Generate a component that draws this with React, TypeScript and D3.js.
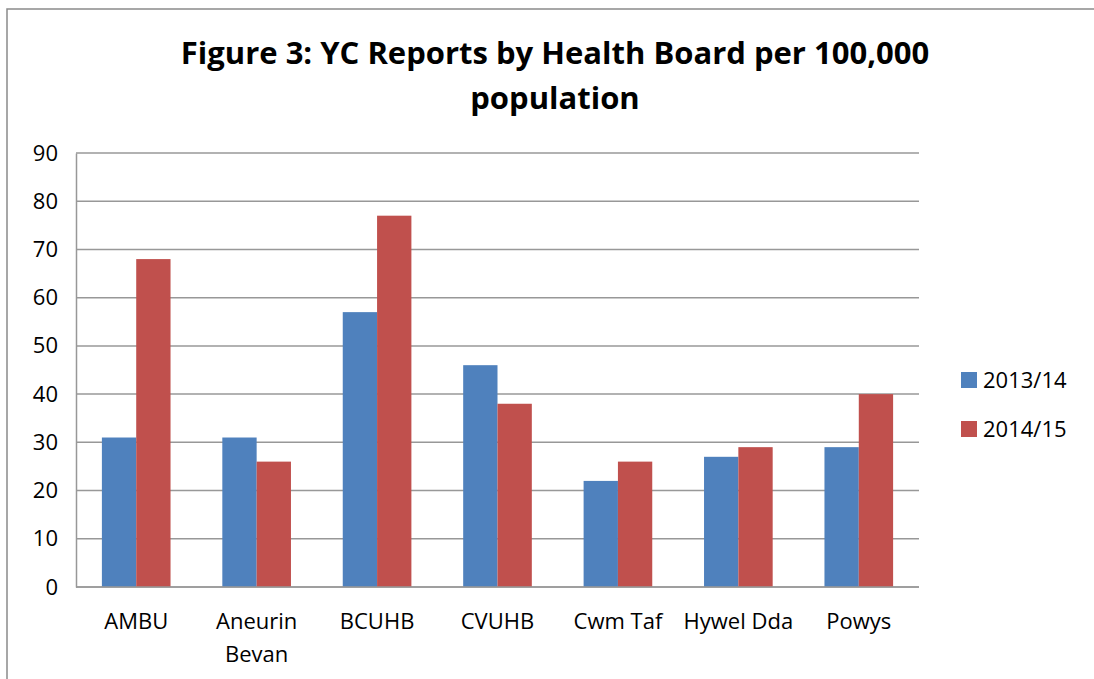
import { useEffect, useRef } from 'react';
import * as d3 from 'd3';

const categories = ['AMBU', 'Aneurin Bevan', 'BCUHB', 'CVUHB', 'Cwm Taf', 'Hywel Dda', 'Powys'];
const seriesNames = ['2013/14', '2014/15'];
const values201314 = [31, 31, 57, 46, 22, 27, 29];
const values201415 = [68, 26, 77, 38, 26, 29, 40];
const yTicks = [0, 10, 20, 30, 40, 50, 60, 70, 80, 90];
const titleLines = ['Figure 3: YC Reports by Health Board per 100,000', 'population'];

const colors = ['#4f81bd', '#c0504d'];
const FONT = '"Open Sans", Lato, sans-serif';

const App = () => {
  const svgRef = useRef<SVGSVGElement>(null);

  useEffect(() => {
    if (!svgRef.current) return;
    const W = 1094;
    const H = 679;
    const plot = { left: 76, right: 919, top: 153, bottom: 587 };

    const svg = d3.select(svgRef.current);
    svg.selectAll('*').remove();
    svg.attr('width', W).attr('height', H);

    // chart border (runs off the right and bottom edges)
    svg.append('rect')
      .attr('x', 7).attr('y', 9)
      .attr('width', W + 20).attr('height', H + 20)
      .attr('fill', 'white')
      .attr('stroke', '#8a8a8a')
      .attr('stroke-width', 1.5);

    // title
    svg.append('text')
      .attr('x', 555)
      .attr('text-anchor', 'middle')
      .style('font-family', FONT)
      .style('font-weight', 'bold')
      .style('font-size', '31px')
      .style('fill', '#000')
      .selectAll('tspan')
      .data(titleLines)
      .enter()
      .append('tspan')
      .attr('x', 555)
      .attr('y', (_, i) => 64 + i * 45)
      .text(d => d);

    const y = d3.scaleLinear()
      .domain([0, 90])
      .range([plot.bottom, plot.top]);

    const x0 = d3.scaleBand<string>()
      .domain(categories)
      .range([plot.left, plot.right])
      .paddingInner(0.43)
      .paddingOuter(0.215);

    const x1 = d3.scaleBand<string>()
      .domain(seriesNames)
      .range([0, x0.bandwidth()]);

    // gridlines
    svg.append('g')
      .selectAll('line')
      .data(yTicks)
      .enter()
      .append('line')
      .attr('x1', plot.left).attr('x2', plot.right)
      .attr('y1', d => y(d)).attr('y2', d => y(d))
      .attr('stroke', '#989898')
      .attr('stroke-width', 1.5);

    // y axis labels
    const yAxis = svg.append('g')
      .attr('transform', `translate(${plot.left},0)`)
      .call(d3.axisLeft(y).tickValues(yTicks).tickSize(0).tickPadding(18));
    yAxis.select('.domain').attr('stroke', '#989898').attr('stroke-width', 1.5);
    yAxis.selectAll('text')
      .style('font-family', FONT)
      .style('font-size', '22px')
      .style('fill', '#000');

    // bars
    const rows = categories.map((c, i) => ({ category: c, values: [values201314[i], values201415[i]] }));
    svg.append('g')
      .selectAll('g')
      .data(rows)
      .enter()
      .append('g')
      .attr('transform', d => `translate(${x0(d.category)},0)`)
      .selectAll('rect')
      .data(d => d.values.map((v, j) => ({ name: seriesNames[j], value: v, color: colors[j] })))
      .enter()
      .append('rect')
      .attr('x', d => x1(d.name) as number)
      .attr('y', d => y(d.value))
      .attr('width', x1.bandwidth())
      .attr('height', d => plot.bottom - y(d.value))
      .attr('fill', d => d.color);

    // x axis line
    svg.append('line')
      .attr('x1', plot.left).attr('x2', plot.right)
      .attr('y1', plot.bottom).attr('y2', plot.bottom)
      .attr('stroke', '#989898')
      .attr('stroke-width', 1.5);

    // category labels, wrapped to the band step
    const step = x0.step();
    const labels = svg.append('g')
      .selectAll('text')
      .data(categories)
      .enter()
      .append('text')
      .attr('text-anchor', 'middle')
      .style('font-family', FONT)
      .style('font-size', '22px')
      .style('fill', '#000');

    labels.each(function (d) {
      const t = d3.select(this);
      const cx = (x0(d) as number) + x0.bandwidth() / 2;
      const words = d.split(' ');
      const lines: string[] = [];
      let line: string[] = [];
      const probe = t.append('tspan');
      words.forEach(w => {
        const test = [...line, w].join(' ');
        probe.text(test);
        if (line.length && (probe.node() as SVGTSpanElement).getComputedTextLength() > step) {
          lines.push(line.join(' '));
          line = [w];
        } else {
          line.push(w);
        }
      });
      lines.push(line.join(' '));
      probe.remove();
      lines.forEach((l, i) => {
        t.append('tspan').attr('x', cx).attr('y', 629 + i * 33).text(l);
      });
    });

    // legend
    const legend = svg.append('g')
      .selectAll('g')
      .data(seriesNames)
      .enter()
      .append('g')
      .attr('transform', (_, i) => `translate(961,${372 + i * 49})`);
    legend.append('rect')
      .attr('width', 16).attr('height', 16)
      .attr('fill', (_, i) => colors[i]);
    legend.append('text')
      .attr('x', 22).attr('y', 16)
      .style('font-family', FONT)
      .style('font-size', '22px')
      .style('fill', '#000')
      .text(d => d);
  }, []);

  return (
    <div style={{ position: 'absolute', left: 0, top: 0 }}>
      <svg ref={svgRef} style={{ display: 'block' }}></svg>
    </div>
  );
};

export default App;
